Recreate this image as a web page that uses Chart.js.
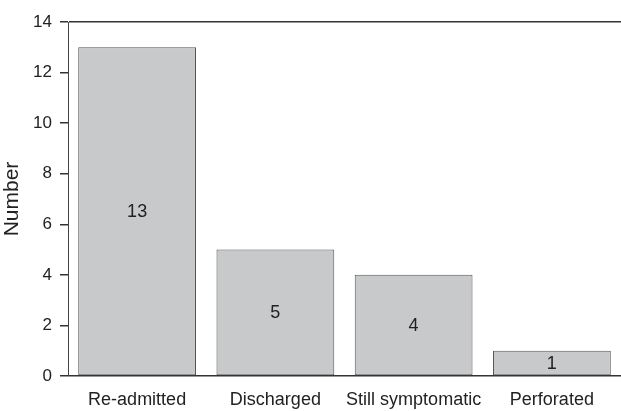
<!DOCTYPE html>
<html>
<head>
<meta charset="utf-8">
<script src="https://cdn.jsdelivr.net/npm/chart.js@4"></script>
<style>
html,body{margin:0;padding:0;background:#fff;}
#wrap{width:621px;height:411px;}
</style>
</head>
<body>
<div id="wrap"><canvas id="c" width="621" height="411"></canvas></div>
<script>
const categories = ["Re-admitted", "Discharged", "Still symptomatic", "Perforated"];
const values = [13, 5, 4, 1];
const yTicks = [0, 2, 4, 6, 8, 10, 12, 14];
const yTitle = "Number";

const FONT = "'Liberation Sans', Arial, sans-serif";

const barLabels = {
  id: 'barLabels',
  afterDatasetsDraw(chart) {
    const ctx = chart.ctx;
    const meta = chart.getDatasetMeta(0);
    ctx.save();
    ctx.fillStyle = '#222';
    ctx.font = "18px " + FONT;
    ctx.textAlign = 'center';
    ctx.textBaseline = 'middle';
    meta.data.forEach((bar, i) => {
      const p = bar.getProps(['x', 'y', 'base'], true);
      ctx.fillText(String(values[i]), p.x, (p.y + p.base) / 2 + 1);
    });
    ctx.restore();
  }
};

new Chart(document.getElementById('c'), {
  type: 'bar',
  data: {
    labels: categories,
    datasets: [{
      data: values,
      backgroundColor: '#c8c9cb',
      borderColor: '#555',
      borderWidth: 1,
      borderSkipped: false,
      barPercentage: 0.852,
      categoryPercentage: 1
    }]
  },
  options: {
    responsive: false,
    animation: false,
    layout: { padding: { top: 22, right: 0, bottom: 0, left: 0 } },
    plugins: { legend: { display: false }, tooltip: { enabled: false } },
    scales: {
      x: {
        grid: { display: false },
        border: { display: false },
        ticks: { color: '#222', font: { family: FONT, size: 18 }, padding: 5, maxRotation: 0, autoSkip: false },
        afterFit(s) { s.height = 35; }
      },
      y: {
        min: 0, max: 14,
        afterBuildTicks(s) { s.ticks = yTicks.map(v => ({ value: v })); },
        ticks: { color: '#222', font: { family: FONT, size: 17 }, padding: 8 },
        grid: {
          color: c => (c.tick && (c.tick.value === 0 || c.tick.value === 14)) ? '#333' : 'rgba(0,0,0,0)',
          tickColor: '#333',
          tickLength: 8,
          lineWidth: 1.5
        },
        border: { display: true, color: '#444', width: 1 },
        title: { display: true, text: yTitle, color: '#222', font: { family: FONT, size: 21 }, padding: { top: 0, bottom: 0 } },
        afterFit(s) { s.width = 68; }
      }
    }
  },
  plugins: [barLabels]
});
</script>
</body>
</html>
